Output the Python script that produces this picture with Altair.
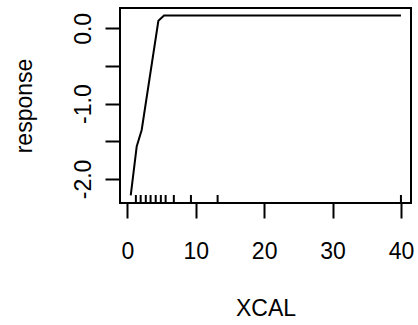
import altair as alt
import pandas as pd

# partial dependence curve
curve_x = [0.5, 1.37, 2.1, 4.54, 5.37, 40.0]
curve_y = [-2.22, -1.57, -1.35, 0.10, 0.17, 0.17]

# rug (data deciles)
rug_x = [1.25, 1.95, 2.7, 3.4, 4.15, 4.9, 5.6, 6.8, 9.3, 13.2, 40.0]

x_ticks = [0, 10, 20, 30, 40]
y_ticks = [-2.0, -1.5, -1.0, -0.5, 0.0]

FONT = "Liberation Sans"
FS = 23

curve = pd.DataFrame({"XCAL": curve_x, "response": curve_y})
rug = pd.DataFrame({"XCAL": rug_x})

xscale = alt.Scale(domain=[-1.07, 41.47], nice=False, zero=False)
yscale = alt.Scale(domain=[-2.32, 0.27], nice=False, zero=False)

xaxis = alt.Axis(
    values=x_ticks, title="XCAL", tickSize=15, labelPadding=40,
    labelBaseline="alphabetic", labelAlign="center", labelFlush=False,
    titleX=145.5, titleY=112, titleBaseline="alphabetic", titleAlign="center",
    domain=False, grid=False,
)
yaxis = alt.Axis(
    values=y_ticks, title="response", tickSize=15, labelPadding=15,
    labelAngle=270, labelAlign="center", labelBaseline="alphabetic",
    labelFlush=False, labelOverlap=False,
    labelExpr="datum.value == 0 ? '0.0' : datum.value == -1 ? '-1.0' : datum.value == -2 ? '-2.0' : ''",
    titleAngle=270, titleX=-89, titleY=97.5, titleAlign="center", titleBaseline="alphabetic",
    domain=False, grid=False,
)

line = alt.Chart(curve).mark_line(color="black", strokeWidth=2).encode(
    x=alt.X("XCAL:Q", scale=xscale, axis=xaxis),
    y=alt.Y("response:Q", scale=yscale, axis=yaxis),
)

rugs = alt.Chart(rug).mark_rule(color="black", strokeWidth=2).encode(
    x=alt.X("XCAL:Q", scale=xscale),
    y=alt.value(195),
    y2=alt.value(187),
)

chart = (
    alt.layer(line, rugs)
    .properties(
        width=291, height=195,
        autosize=alt.AutoSizeParams(type="none"),
        padding={"left": 120, "top": 8, "right": 7, "bottom": 122},
        background="white",
    )
    .configure_view(stroke="black", strokeWidth=2)
    .configure_axis(
        labelFont=FONT, labelFontSize=FS, labelColor="black",
        titleFont=FONT, titleFontSize=FS, titleColor="black", titleFontWeight="normal",
        tickColor="black", tickWidth=2,
    )
)

chart.save("out.html", embed_options={"renderer": "svg", "actions": False})
